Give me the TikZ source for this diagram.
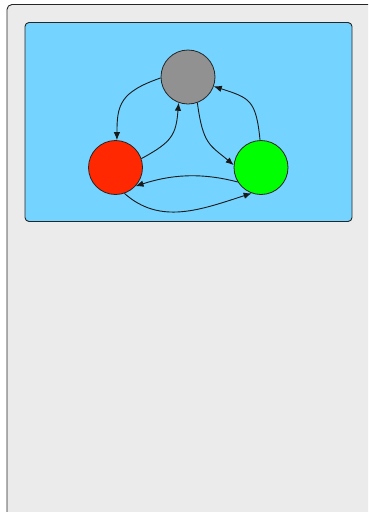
\documentclass[tikz,border=0pt]{standalone}
\usetikzlibrary{arrows.meta}
\definecolor{panelgray}{HTML}{EBEBEB}
\definecolor{skyblue}{HTML}{74D4FF}
\definecolor{stategray}{HTML}{919191}
\definecolor{statered}{HTML}{FF2800}
\definecolor{stategreen}{HTML}{00FF00}
\begin{document}
\begin{tikzpicture}[x=1pt,y=-1pt,
  state/.style={circle,draw=black!85,line width=0.8pt,minimum size=54pt,inner sep=0pt},
  link/.style={draw=black!90,line width=0.9pt,-{Latex[length=8pt,width=6.5pt]}}]
\useasboundingbox (0,0) rectangle (368,512);
\begin{scope}
\clip (0,0) rectangle (368,512);
\draw[fill=panelgray,draw=black!85,line width=0.9pt,rounded corners=5pt] (7,4.5) rectangle (374,518);
\end{scope}
\draw[fill=skyblue,draw=black!85,line width=0.9pt,rounded corners=4pt] (25,22.5) rectangle (352,221.5);
\node[state,fill=stategray] (g) at (188,77) {};
\node[state,fill=statered] (r) at (115.5,167.5) {};
\node[state,fill=stategreen] (n) at (261,167.5) {};
\draw[link] (g.182) .. controls (120,92) and (117,105) .. (r.87);
\draw[link] (r.19) .. controls (172,142) and (176,135) .. (g.250);
\draw[link] (g.290) .. controls (203,145) and (210,145) .. (n.175);
\draw[link] (n.92) .. controls (256,100) and (250,98) .. (g.340);
\draw[link] (n.212) .. controls (200,172) and (170,175) .. (r.317);
\draw[link] (r.289) .. controls (160,225) and (200,210) .. (n.250);
\end{tikzpicture}
\end{document}
